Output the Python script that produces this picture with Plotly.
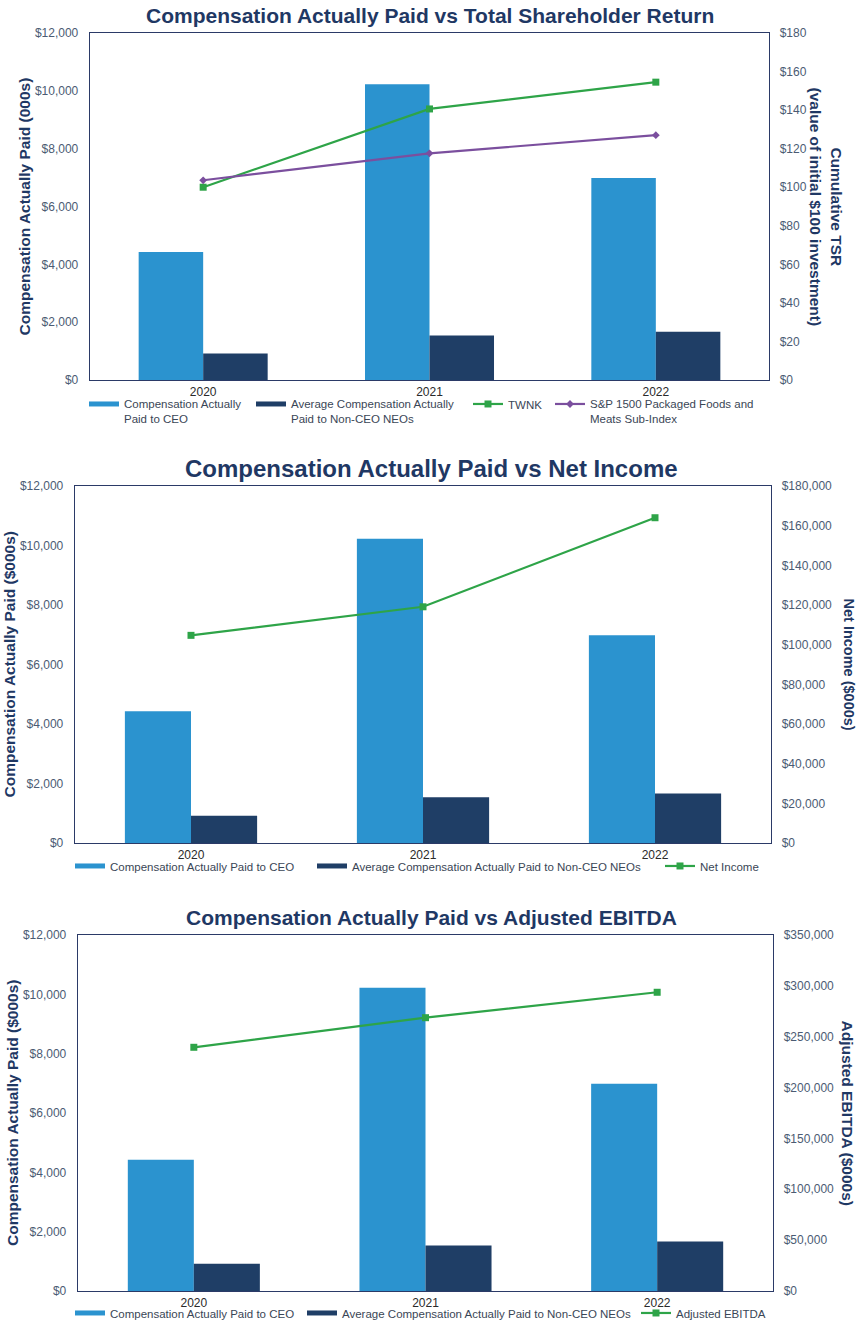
import plotly.graph_objects as go

W, H = 862, 1323

# ---------------- data ----------------
categories = ["2020", "2021", "2022"]
ceo_cap = [4425, 10225, 6985]          # Compensation Actually Paid to CEO ($000s)
neo_avg_cap = [915, 1535, 1665]        # Average CAP to Non-CEO NEOs ($000s)
twnk_tsr = [100.0, 140.6, 154.5]       # TWNK cumulative TSR ($)
sp1500_tsr = [103.6, 117.6, 127.0]     # S&P 1500 Packaged Foods and Meats Sub-Index TSR ($)
net_income = [104700, 119100, 164000]  # Net Income ($000s)
adj_ebitda = [239600, 268700, 293700]  # Adjusted EBITDA ($000s)

left_ticks = [0, 2000, 4000, 6000, 8000, 10000, 12000]
tsr_ticks = [0, 20, 40, 60, 80, 100, 120, 140, 160, 180]
ni_ticks = [0, 20000, 40000, 60000, 80000, 100000, 120000, 140000, 160000, 180000]
ebitda_ticks = [0, 50000, 100000, 150000, 200000, 250000, 300000, 350000]

# ---------------- styles ----------------
FONT = "Liberation Sans, Arial, sans-serif"
C_CEO = "#2B93CF"
C_NEO = "#1F3E66"
C_GREEN = "#2EA448"
C_PURPLE = "#7B4F9E"
NAVY = "#1F3864"
TICK_C = "#4B5B73"
AXIS_C = "#2B3A67"
LEG_C = "#3A4656"


def fx(x):
    return x / W


def fy(y):
    return 1 - y / H


def money(vals):
    return [f"${v:,}" for v in vals]


panels = [
    dict(x0=90, x1=769, y0=33, y1=380, xa="x", ya="y", ya2="y2",
         right_ticks=tsr_ticks,
         lines=[("TWNK", twnk_tsr, C_GREEN, "square", 7),
                ("S&P 1500 Packaged Foods and<br>Meats Sub-Index", sp1500_tsr, C_PURPLE, "diamond", 6)],
         names=["Compensation Actually<br>Paid to CEO", "Average Compensation Actually<br>Paid to Non-CEO NEOs"],
         legend_x=[124, 291, 508, 590], legend_y=405,
         title="Compensation Actually Paid vs Total Shareholder Return", title_x=430, title_y=16, title_size=21,
         ltitle="Compensation Actually Paid (000s)", ltitle_x=24,
         rtitle="Cumulative TSR<br>(value of initial $100 investment)", rtitle_x=826, rtitle_size=15.5),
    dict(x0=75, x1=771, y0=486, y1=843, xa="x2", ya="y3", ya2="y4",
         right_ticks=ni_ticks,
         lines=[("Net Income", net_income, C_GREEN, "square", 7)],
         names=["Compensation Actually Paid to CEO", "Average Compensation Actually Paid to Non-CEO NEOs"],
         legend_x=[110, 352, 700], legend_y=867,
         title="Compensation Actually Paid vs Net Income", title_x=431, title_y=469, title_size=24,
         ltitle="Compensation Actually Paid ($000s)", ltitle_x=9,
         rtitle="Net Income ($000s)", rtitle_x=849, rtitle_size=14.5),
    dict(x0=78, x1=773, y0=935, y1=1291, xa="x3", ya="y5", ya2="y6",
         right_ticks=ebitda_ticks,
         lines=[("Adjusted EBITDA", adj_ebitda, C_GREEN, "square", 7)],
         names=["Compensation Actually Paid to CEO", "Average Compensation Actually Paid to Non-CEO NEOs"],
         legend_x=[110, 342, 676], legend_y=1314,
         title="Compensation Actually Paid vs Adjusted EBITDA", title_x=431.5, title_y=917, title_size=21,
         ltitle="Compensation Actually Paid ($000s)", ltitle_x=12,
         rtitle="Adjusted EBITDA ($000s)", rtitle_x=847.5, rtitle_size=15.5),
]

fig = go.Figure()
layout = dict(
    width=W, height=H, margin=dict(l=0, r=0, t=0, b=0, autoexpand=False),
    paper_bgcolor="white", plot_bgcolor="white",
    bargap=0.43, bargroupgap=0, barmode="group",
    font=dict(family=FONT, size=12, color=TICK_C),
    annotations=[],
)

legend_idx = 0


def next_legend():
    global legend_idx
    legend_idx += 1
    return "legend" if legend_idx == 1 else f"legend{legend_idx}"


for p in panels:
    xa, ya, ya2 = p["xa"], p["ya"], p["ya2"]
    xkey = "xaxis" + xa[1:]
    ykey = "yaxis" + ya[1:]
    y2key = "yaxis" + ya2[1:]

    # bars
    fig.add_trace(go.Bar(x=categories, y=ceo_cap, marker=dict(color=C_CEO, line=dict(width=0)),
                         xaxis=xa, yaxis=ya, showlegend=False, offsetgroup="ceo", name=p["names"][0]))
    fig.add_trace(go.Bar(x=categories, y=neo_avg_cap, marker=dict(color=C_NEO, line=dict(width=0)),
                         xaxis=xa, yaxis=ya, showlegend=False, offsetgroup="neo", name=p["names"][1]))
    # lines
    for (nm, vals, col, sym, msz) in p["lines"]:
        fig.add_trace(go.Scatter(x=categories, y=vals, mode="lines+markers",
                                 line=dict(color=col, width=2.2),
                                 marker=dict(color=col, symbol=sym, size=msz),
                                 xaxis=xa, yaxis=ya2, showlegend=False, name=nm))

    # legend entries (one legend per item so each can be placed)
    entries = [(p["names"][0], C_CEO, "bar", None, None), (p["names"][1], C_NEO, "bar", None, None)]
    entries += [(nm, col, "line", sym, msz) for (nm, vals, col, sym, msz) in p["lines"]]
    for (nm, col, kind, sym, msz), lx in zip(entries, p["legend_x"]):
        lg = next_legend()
        if kind == "bar":
            tr = go.Scatter(x=[None], y=[None], mode="lines", line=dict(color=col, width=5),
                            name=nm, legend=lg, xaxis=xa, yaxis=ya, showlegend=True, hoverinfo="skip")
        else:
            tr = go.Scatter(x=[None], y=[None], mode="lines+markers", line=dict(color=col, width=2.2),
                            marker=dict(color=col, symbol=sym, size=msz),
                            name=nm, legend=lg, xaxis=xa, yaxis=ya2, showlegend=True, hoverinfo="skip")
        fig.add_trace(tr)
        layout[lg] = dict(x=fx(lx - 40), y=fy(p["legend_y"] - 15), xanchor="left", yanchor="top",
                          orientation="v", bgcolor="rgba(0,0,0,0)", borderwidth=0, valign="top",
                          font=dict(family=FONT, size=11.5, color=LEG_C), itemclick=False,
                          itemdoubleclick=False, tracegroupgap=0)

    layout[xkey] = dict(domain=[fx(p["x0"]), fx(p["x1"])], anchor=ya, type="category",
                        showline=True, linecolor=AXIS_C, linewidth=1.3, mirror=True,
                        ticks="", showgrid=False, zeroline=False, automargin=False,
                        tickfont=dict(family=FONT, size=12, color="#2A2A2A"), fixedrange=True)
    layout[ykey] = dict(domain=[fy(p["y1"]), fy(p["y0"])], anchor=xa, range=[0, 12000],
                        tickvals=left_ticks, ticktext=money(left_ticks),
                        showline=True, linecolor=AXIS_C, linewidth=1.3, ticks="",
                        ticklabelstandoff=8, showgrid=False, zeroline=False, automargin=False,
                        tickfont=dict(family=FONT, size=12, color=TICK_C), fixedrange=True)
    rt = p["right_ticks"]
    layout[y2key] = dict(overlaying=ya, anchor=xa, side="right", range=[rt[0], rt[-1]],
                         tickvals=rt, ticktext=money(rt),
                         showline=True, linecolor=AXIS_C, linewidth=1.3, ticks="",
                         ticklabelstandoff=7, showgrid=False, zeroline=False, automargin=False,
                         tickfont=dict(family=FONT, size=12, color=TICK_C), fixedrange=True)

    ymid = (p["y0"] + p["y1"]) / 2
    layout["annotations"] += [
        dict(text=f"<b>{p['title']}</b>", x=fx(p["title_x"]), y=fy(p["title_y"]),
             xref="paper", yref="paper", xanchor="center", yanchor="middle", showarrow=False,
             font=dict(family=FONT, size=p["title_size"], color=NAVY)),
        dict(text=f"<b>{p['ltitle']}</b>", x=fx(p["ltitle_x"]), y=fy(ymid), textangle=-90,
             xref="paper", yref="paper", xanchor="center", yanchor="middle", showarrow=False,
             font=dict(family=FONT, size=15.5, color=NAVY)),
        dict(text=f"<b>{p['rtitle']}</b>", x=fx(p["rtitle_x"]), y=fy(ymid), textangle=90,
             xref="paper", yref="paper", xanchor="center", yanchor="middle", showarrow=False,
             font=dict(family=FONT, size=p["rtitle_size"], color=NAVY)),
    ]

fig.update_layout(**layout)
fig.write_html("out.html", config={"displayModeBar": False, "staticPlot": True})
